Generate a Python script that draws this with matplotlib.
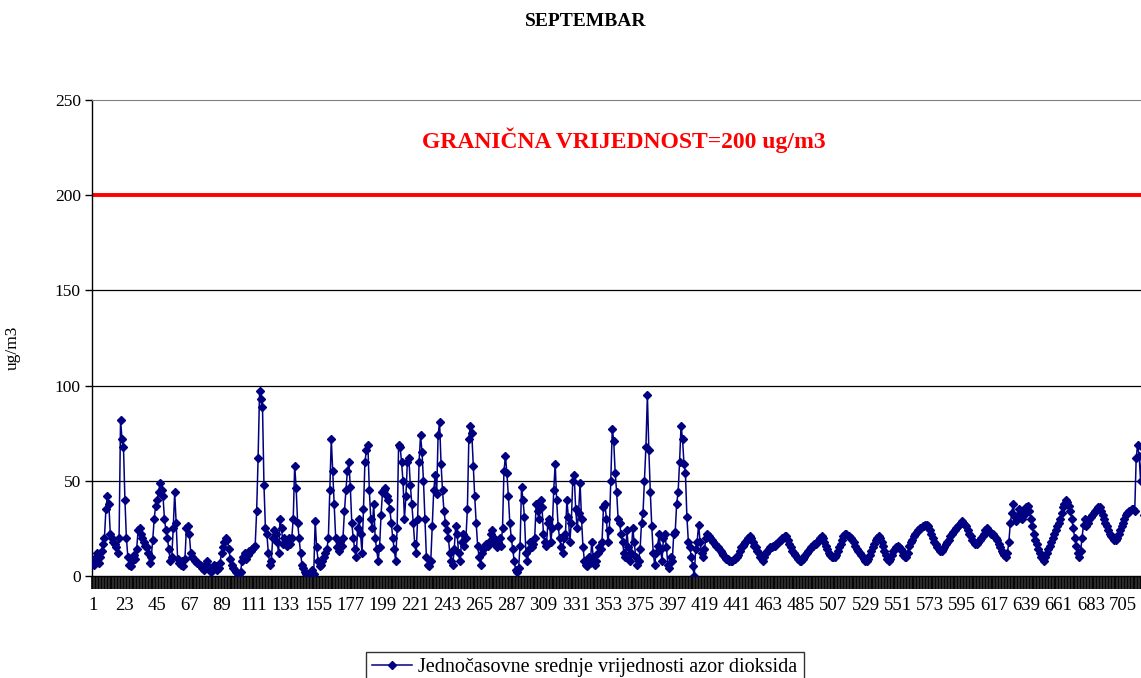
import numpy as np
import matplotlib
matplotlib.use("Agg")
import matplotlib.pyplot as plt
from matplotlib.ticker import FixedLocator, NullFormatter

plt.rcParams['font.family'] = ['Liberation Serif', 'DejaVu Serif']

# satne vrijednosti SO2 po danima (24 sata), ug/m3, ocitano sa grafika
dan01 = [8, 6, 10, 12, 7, 10, 13, 17, 20, 35, 42, 38, 22, 20, 18, 17, 15, 12, 20, 82, 72, 68, 40, 20]
dan02 = [10, 6, 5, 8, 11, 9, 14, 24, 25, 22, 20, 18, 16, 15, 12, 7, 10, 19, 30, 37, 40, 44, 49, 45]
dan03 = [42, 30, 24, 20, 14, 8, 10, 25, 44, 28, 9, 7, 6, 8, 5, 9, 25, 26, 22, 12, 10, 9, 8, 7]
dan04 = [7, 6, 5, 4, 3, 6, 8, 5, 3, 2, 4, 6, 5, 3, 4, 7, 12, 15, 18, 20, 19, 14, 9, 6]
dan05 = [4, 3, 2, 1, 0, 2, 8, 10, 12, 9, 11, 13, 13, 14, 15, 16, 34, 62, 97, 93, 89, 48, 25, 22]
dan06 = [12, 6, 8, 20, 24, 22, 18, 12, 30, 25, 17, 20, 18, 16, 20, 17, 20, 30, 58, 46, 28, 20, 12, 6]
dan07 = [4, 2, 1, 0, 0, 2, 3, 1, 29, 15, 8, 5, 6, 8, 10, 12, 14, 20, 45, 72, 55, 38, 20, 15]
dan08 = [13, 18, 16, 20, 34, 45, 55, 60, 47, 28, 20, 14, 10, 25, 30, 22, 12, 35, 60, 66, 69, 45, 30, 25]
dan09 = [38, 20, 14, 8, 15, 32, 44, 45, 46, 42, 40, 35, 28, 20, 14, 8, 25, 69, 68, 60, 50, 30, 42, 60]
dan10 = [62, 48, 38, 28, 17, 12, 30, 60, 74, 65, 50, 30, 10, 6, 5, 8, 26, 45, 53, 43, 74, 81, 59, 45]
dan11 = [34, 28, 24, 20, 12, 8, 6, 14, 26, 22, 12, 8, 18, 22, 16, 20, 35, 72, 79, 75, 58, 42, 28, 16]
dan12 = [10, 6, 12, 14, 15, 17, 16, 18, 22, 24, 20, 17, 15, 18, 20, 16, 25, 55, 63, 54, 42, 28, 20, 14]
dan13 = [8, 3, 2, 4, 16, 47, 40, 31, 12, 8, 14, 18, 15, 17, 20, 38, 34, 30, 40, 36, 22, 18, 16, 28]
dan14 = [30, 18, 25, 45, 59, 40, 26, 20, 15, 12, 20, 22, 40, 31, 18, 28, 50, 53, 35, 25, 33, 49, 30, 15]
dan15 = [8, 6, 5, 10, 7, 18, 10, 6, 8, 12, 15, 14, 18, 36, 38, 30, 18, 24, 50, 77, 71, 54, 44, 30]
dan16 = [28, 22, 18, 12, 10, 24, 15, 8, 12, 25, 18, 10, 6, 8, 14, 28, 33, 50, 68, 95, 66, 44, 26, 12]
dan17 = [6, 12, 16, 22, 14, 8, 20, 22, 15, 6, 4, 10, 8, 22, 23, 38, 44, 60, 79, 72, 59, 54, 31, 18]
dan18 = [15, 10, 5, 0, 14, 18, 27, 18, 12, 10, 14, 20, 22, 21, 20, 19, 18, 17, 16, 15, 14, 13, 12, 11]
dan19 = [10, 9, 9, 8, 8, 8, 9, 9, 10, 11, 13, 15, 16, 17, 18, 19, 20, 21, 20, 18, 16, 15, 13, 12]
dan20 = [10, 9, 8, 10, 12, 13, 14, 15, 15, 16, 16, 17, 18, 18, 19, 20, 20, 21, 21, 19, 17, 15, 13, 12]
dan21 = [11, 10, 9, 8, 8, 9, 10, 11, 12, 13, 14, 15, 16, 17, 17, 18, 19, 20, 21, 20, 18, 16, 14, 12]
dan22 = [11, 10, 10, 10, 11, 13, 15, 17, 19, 21, 22, 22, 21, 21, 20, 19, 18, 16, 14, 13, 12, 11, 10, 9]
dan23 = [8, 8, 9, 11, 13, 15, 17, 19, 20, 21, 20, 18, 16, 13, 11, 9, 8, 9, 11, 13, 14, 15, 16, 15]
dan24 = [14, 13, 11, 10, 10, 12, 16, 18, 19, 21, 22, 23, 24, 25, 25, 26, 26, 27, 27, 26, 24, 22, 20, 18]
dan25 = [17, 15, 14, 13, 13, 14, 15, 17, 18, 19, 21, 22, 23, 24, 25, 26, 27, 28, 29, 28, 27, 26, 24, 22]
dan26 = [21, 19, 18, 17, 17, 18, 19, 20, 21, 22, 24, 25, 24, 23, 22, 22, 21, 20, 19, 17, 15, 13, 12, 11]
dan27 = [10, 12, 18, 28, 33, 38, 31, 29, 32, 35, 33, 30, 32, 34, 36, 37, 34, 30, 26, 22, 19, 17, 14, 12]
dan28 = [10, 9, 8, 10, 12, 14, 16, 18, 20, 22, 24, 26, 28, 30, 33, 36, 38, 40, 39, 37, 34, 30, 25, 20]
dan29 = [16, 12, 10, 13, 20, 27, 30, 26, 28, 30, 31, 32, 33, 34, 35, 36, 36, 34, 32, 30, 28, 26, 24, 22]
dan30 = [21, 20, 19, 19, 20, 22, 24, 26, 28, 30, 32, 33, 34, 34, 35, 35, 34, 62, 69, 63, 50, 68, 32, 30]

dani = [dan01, dan02, dan03, dan04, dan05, dan06, dan07, dan08, dan09, dan10,
        dan11, dan12, dan13, dan14, dan15, dan16, dan17, dan18, dan19, dan20,
        dan21, dan22, dan23, dan24, dan25, dan26, dan27, dan28, dan29, dan30]
vrijednosti = [v for d in dani for v in d]
sati = list(range(1, len(vrijednosti) + 1))

granica = 200
granica_tekst = "GRANIČNA VRIJEDNOST=200 ug/m3"
naslov = "SEPTEMBAR"
legenda = "Jednočasovne srednje vrijednosti azor dioksida"
oznake_x = list(range(1, len(vrijednosti) + 1, 22))

W, H = 1141, 678
fig = plt.figure(figsize=(W / 100, H / 100), dpi=100)
# povrsina grafika (desna ivica izlazi van slike kao na originalu)
ax = fig.add_axes([92 / W, (H - 576) / H, 1053.7 / W, 476 / H])

ax.plot(sati, vrijednosti, color='#000080', lw=1.1, marker='D', ms=4.3,
        mec='#000080', mfc='#000080', label=legenda, zorder=3)
ax.axhline(granica, color='#ff0000', lw=2.8, zorder=2)

ax.set_xlim(0.5, len(vrijednosti) + 0.5)
ax.set_ylim(0, 250)

# y osa
ax.set_yticks([0, 50, 100, 150, 200, 250])
ax.tick_params(axis='y', direction='out', length=5, width=1, labelsize=12.5, pad=3)
for y in [50, 100, 150]:
    ax.axhline(y, color='black', lw=0.9, zorder=1)
ax.set_ylabel("ug/m3", fontsize=12.5)
ax.yaxis.set_label_coords(-0.068, 0.48)

# x osa: crtice na granicama kategorija, oznake svaki 22. sat
ax.xaxis.set_major_locator(FixedLocator(oznake_x))
ax.set_xticklabels([str(o) for o in oznake_x])
ax.tick_params(axis='x', which='major', length=0, labelsize=13.5, pad=15)
ax.xaxis.set_minor_locator(FixedLocator(np.arange(0.5, len(vrijednosti) + 1, 1.0)))
ax.xaxis.set_minor_formatter(NullFormatter())
ax.tick_params(axis='x', which='minor', direction='out', length=9, width=1.2, color='black')

ax.spines['top'].set_color('#808080')
ax.spines['right'].set_visible(False)
ax.spines['left'].set_linewidth(1)
ax.spines['bottom'].set_linewidth(1)

ax.text(364, 229, granica_tekst, color='#ff0000', fontsize=17, fontweight='bold',
        ha='center', va='center')

fig.text(586 / W, 1 - 22 / H, naslov, fontsize=14, fontweight='bold', ha='center', va='center')

# legenda - donja ivica okvira izlazi van slike kao na originalu
leg = fig.legend(loc='upper left', bbox_to_anchor=(366 / W, 1 - 652 / H), fontsize=14.5,
                 frameon=True, fancybox=False, edgecolor='black', handlelength=2.0,
                 borderpad=0.3, handletextpad=0.3, borderaxespad=0)
leg.get_frame().set_linewidth(1)
for h in leg.legend_handles:
    h.set_markersize(4)

fig.savefig("out.png", dpi=100)
